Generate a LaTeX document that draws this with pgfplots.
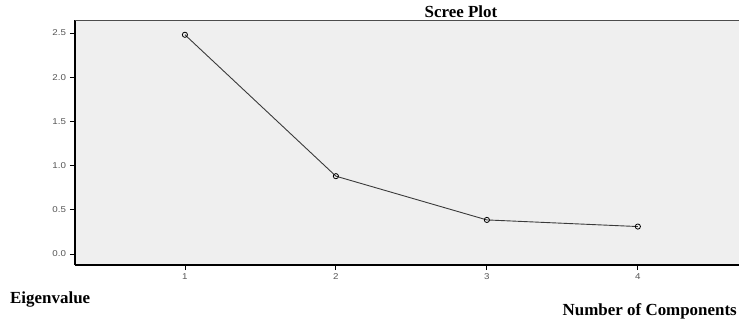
\documentclass[border=0pt]{standalone}
\usepackage{fontspec}
\setmainfont{Liberation Serif}
\newfontfamily\ticksans{Liberation Sans}
\usepackage{pgfplots}
\pgfplotsset{compat=1.18}
\definecolor{bgc}{HTML}{EFEFEF}
\definecolor{tickc}{HTML}{555555}
\definecolor{linec}{HTML}{3A3A3A}
\begin{document}
\begin{tikzpicture}[x=1bp,y=1bp]
\useasboundingbox (-75bp,-57bp) rectangle (664bp,265bp);
\begin{axis}[
  at={(0bp,0bp)}, anchor=south west,
  scale only axis, width=664bp, height=245bp,
  xmin=0.272, xmax=4.67, ymin=-0.125, ymax=2.647,
  axis x line*=bottom, axis y line*=left,
  axis line style={black, line width=1.6bp, -},
  axis background/.style={fill=bgc},
  xtick={1,2,3,4}, ytick={0,0.5,1,1.5,2,2.5},
  yticklabels={0.0,0.5,1.0,1.5,2.0,2.5},
  tick align=outside, major tick length=5bp,
  tick style={black, line width=0.8bp},
  ticklabel style={font=\ticksans\fontsize{8.5}{9}\selectfont, text=tickc, xscale=1.15},
  /pgf/number format/assume math mode=true,
  clip=false,
]
\addplot[linec, line width=0.9bp, mark=o, mark size=2.6bp, mark options={black, line width=0.8bp}]
  coordinates {(1,2.48) (2,0.88) (3,0.385) (4,0.31)};
\draw[black!70, line width=0.8bp] (rel axis cs:0,1) -- (rel axis cs:1,1);
\end{axis}
\node[anchor=base, font=\bfseries\fontsize{17}{19}\selectfont, inner sep=0pt] at (386bp,247bp) {Scree Plot};
\node[anchor=base west, font=\bfseries\fontsize{17}{19}\selectfont, inner sep=0pt] at (-65bp,-38bp) {Eigenvalue};
\node[anchor=base east, font=\bfseries\fontsize{17}{19}\selectfont, inner sep=0pt] at (662bp,-50bp) {Number of Components};
\end{tikzpicture}
\end{document}
